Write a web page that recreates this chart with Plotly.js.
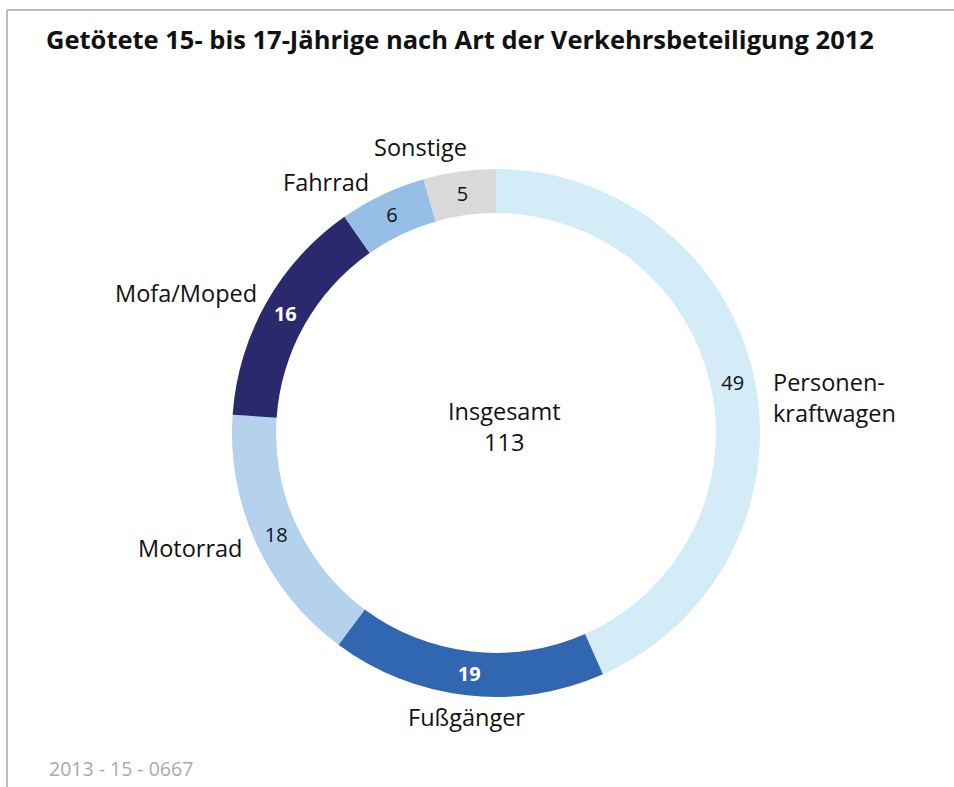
<!DOCTYPE html>
<html>
<head>
<meta charset="utf-8">
<script src="https://cdn.plot.ly/plotly-3.0.1.min.js"></script>
<style>
html,body{margin:0;padding:0;background:#fff;}
#chart{width:954px;height:787px;}
</style>
</head>
<body>
<div id="chart"></div>
<script>
var categories = ['Personenkraftwagen', 'Fußgänger', 'Motorrad', 'Mofa/Moped', 'Fahrrad', 'Sonstige'];
var displayLabels = ['Personen-<br>kraftwagen', 'Fußgänger', 'Motorrad', 'Mofa/Moped', 'Fahrrad', 'Sonstige'];
var values = [49, 19, 18, 16, 6, 5];
var titleText = 'Getötete 15- bis 17-Jährige nach Art der Verkehrsbeteiligung 2012';
var centerLabel = 'Insgesamt';
var sourceCode = '2013 - 15 - 0667';

var colors = ['#d3ecf8', '#3166b1', '#b4d2ee', '#2b296d', '#96bde6', '#d9d9d9'];
var textColors = ['#111', '#fff', '#111', '#fff', '#111', '#111'];
var templates = ['%{value}', '<b>%{value}</b>', '%{value}', '<b>%{value}</b>', '%{value}', '%{value}'];

var W = 954, H = 787;
var cx = 496, cy = 433, R = 264;
function px(x){ return x / W; }
function py(y){ return 1 - y / H; }

var FONT = 'Open Sans, sans-serif';

var total = values.reduce(function(a, b){ return a + b; }, 0);

var trace = {
  type: 'pie',
  labels: categories,
  values: values,
  sort: false,
  direction: 'clockwise',
  rotation: 0,
  hole: 0.833,
  marker: {colors: colors, line: {width: 0}},
  textinfo: 'value',
  texttemplate: templates,
  textposition: 'inside',
  insidetextorientation: 'horizontal',
  textfont: {family: FONT, size: 20, color: textColors},
  showlegend: false,
  hoverinfo: 'label+value',
  domain: {x: [px(cx - R), px(cx + R)], y: [py(cy + R), py(cy - R)]}
};

// label anchor positions (pixels)
var labelPos = [
  {x: 771, y: 398, xa: 'left'},
  {x: 466, y: 717, xa: 'center'},
  {x: 244, y: 548, xa: 'right'},
  {x: 259, y: 293, xa: 'right'},
  {x: 326, y: 182, xa: 'center'},
  {x: 420, y: 147, xa: 'center'}
];

var annotations = categories.map(function(c, i){
  var p = labelPos[i];
  return {
    xref: 'paper', yref: 'paper',
    x: px(p.x), y: py(p.y),
    xanchor: p.xa, yanchor: 'middle', align: p.xa === 'right' ? 'right' : 'left',
    text: displayLabels[i], showarrow: false,
    font: {family: FONT, size: 23.5, color: '#111'}
  };
});

annotations.push({
  xref: 'paper', yref: 'paper', x: px(504), y: py(426),
  xanchor: 'center', yanchor: 'middle', align: 'center',
  text: centerLabel + '<br>' + total, showarrow: false,
  font: {family: FONT, size: 23.5, color: '#111'}
});

annotations.push({
  xref: 'paper', yref: 'paper', x: px(47), y: py(768),
  xanchor: 'left', yanchor: 'middle',
  text: sourceCode, showarrow: false,
  font: {family: FONT, size: 19.5, color: '#aaaaaa'}
});

var layout = {
  width: W, height: H,
  margin: {l: 0, r: 0, t: 0, b: 0},
  paper_bgcolor: '#fff',
  uniformtext: {mode: 'show', minsize: 20},
  title: {
    text: '<b>' + titleText + '</b>',
    x: px(46), xanchor: 'left', xref: 'paper',
    y: py(40), yanchor: 'middle', yref: 'paper',
    font: {family: FONT, size: 25.5, color: '#111'}
  },
  annotations: annotations,
  shapes: [
    {type: 'line', xref: 'paper', yref: 'paper', x0: px(7), x1: 1, y0: py(10), y1: py(10), line: {color: '#bdbdbd', width: 2}},
    {type: 'line', xref: 'paper', yref: 'paper', x0: px(7), x1: px(7), y0: py(10), y1: 0, line: {color: '#bdbdbd', width: 2}}
  ]
};

Plotly.newPlot('chart', [trace], layout, {displayModeBar: false, staticPlot: true});
</script>
</body>
</html>
